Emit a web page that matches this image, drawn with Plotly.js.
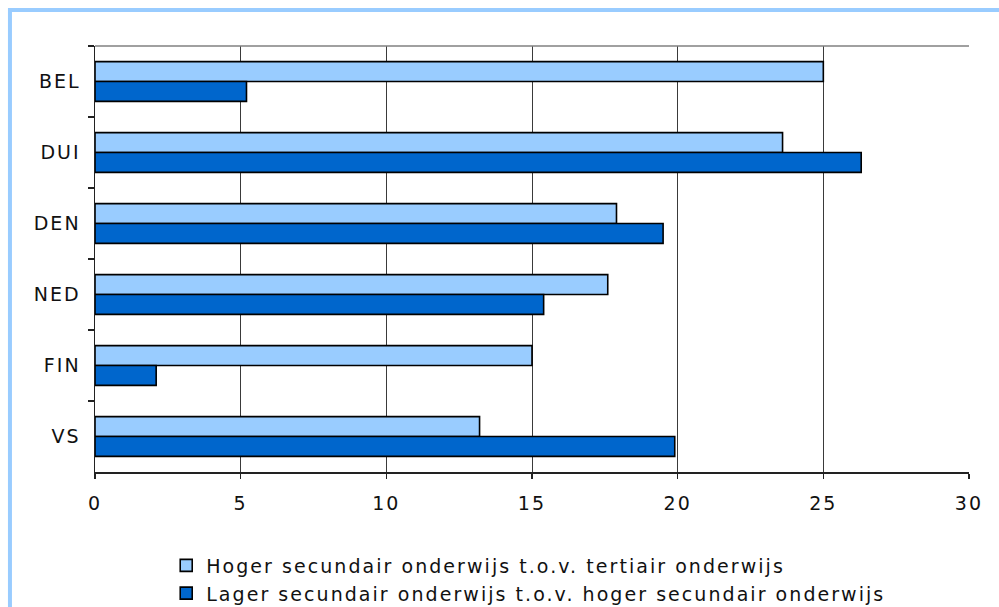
<!DOCTYPE html>
<html>
<head>
<meta charset="utf-8">
<script src="https://cdn.plot.ly/plotly-3.0.1.min.js"></script>
<style>
  html, body { margin: 0; padding: 0; overflow: hidden; background: #fff; }
  #chart { width: 999px; height: 607px; }
  svg text { letter-spacing: 2.05px; }
</style>
</head>
<body>
<div id="chart"></div>
<script>
var categories = ["BEL", "DUI", "DEN", "NED", "FIN", "VS"];
var seriesNames = [
  "Hoger secundair onderwijs t.o.v. tertiair onderwijs",
  "Lager secundair onderwijs t.o.v. hoger secundair onderwijs"
];
var hogerValues = [25.0, 23.6, 17.9, 17.6, 15.0, 13.2];
var lagerValues = [5.2, 26.3, 19.5, 15.4, 2.1, 19.9];
var xTicks = [0, 5, 10, 15, 20, 25, 30];

var FONT = "DejaVu Sans, Verdana, sans-serif";

var traces = [
  {
    type: "bar", orientation: "h",
    name: seriesNames[0], y: categories, x: hogerValues,
    marker: { color: "#99CCFF", line: { color: "#000000", width: 1.6 } },
    legendgroup: "a"
  },
  {
    type: "bar", orientation: "h",
    name: seriesNames[1], y: categories, x: lagerValues,
    marker: { color: "#0066CC", line: { color: "#000000", width: 1.6 } },
    legendgroup: "b"
  }
];

var layout = {
  width: 999, height: 607,
  margin: { l: 95, r: 30, t: 46, b: 135, autoexpand: false },
  paper_bgcolor: "#ffffff", plot_bgcolor: "#ffffff",
  font: { family: FONT, size: 19, color: "#111111" },
  barmode: "group",
  bargap: 0.44,
  bargroupgap: 0,
  showlegend: true,
  legend: {
    orientation: "v",
    x: 0.0815, xanchor: "left",
    y: -0.175, yanchor: "top",
    font: { family: FONT, size: 19, color: "#111111" },
    traceorder: "normal",
    tracegroupgap: 2,
    bgcolor: "rgba(0,0,0,0)"
  },
  xaxis: {
    range: [0, 30],
    tickvals: xTicks,
    ticktext: xTicks.map(String),
    showgrid: true, gridcolor: "#3a3a3a", gridwidth: 1,
    zeroline: false,
    showline: true, linecolor: "#222222", linewidth: 1.5,
    ticks: "outside", ticklen: 5, tickcolor: "#222222", tickwidth: 1.5,
    ticklabelstandoff: 9,
    tickfont: { family: FONT, size: 19, color: "#111111" },
    fixedrange: true
  },
  yaxis: {
    type: "category",
    categoryorder: "array", categoryarray: categories,
    autorange: "reversed",
    tickson: "boundaries",
    showgrid: false, zeroline: false,
    showline: true, linecolor: "#222222", linewidth: 1.5,
    ticks: "outside", ticklen: 6, tickcolor: "#222222", tickwidth: 1.5,
    ticklabelstandoff: 9,
    tickfont: { family: FONT, size: 19, color: "#111111" },
    fixedrange: true
  },
  shapes: [
    { type: "line", xref: "paper", yref: "paper", x0: 0, x1: 1, y0: 1, y1: 1,
      line: { color: "#808080", width: 1.5 }, layer: "above" },
    { type: "rect", xref: "paper", yref: "paper",
      x0: -0.0973, x1: 1.3, y0: -0.6, y1: 1.0845,
      line: { color: "#99CCFF", width: 4 }, fillcolor: "rgba(0,0,0,0)", layer: "above" }
  ]
};

Plotly.newPlot("chart", traces, layout, { displayModeBar: false, staticPlot: true });
</script>
</body>
</html>
